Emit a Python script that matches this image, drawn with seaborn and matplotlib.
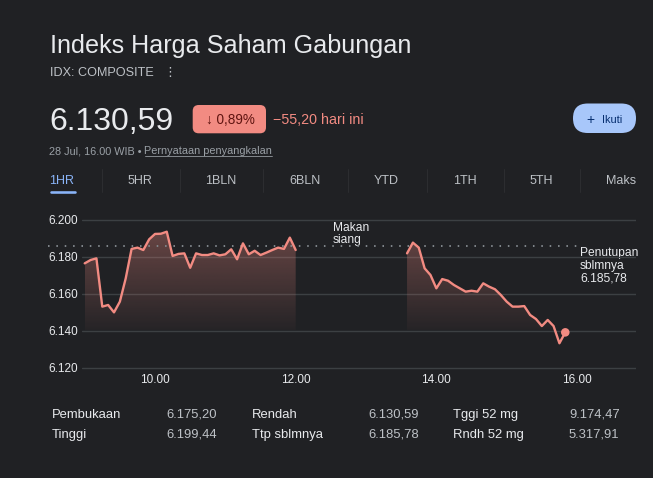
import numpy as np
import pandas as pd
import matplotlib
matplotlib.use("Agg")
import matplotlib.pyplot as plt
import seaborn as sns
from matplotlib.patches import FancyBboxPatch
from matplotlib.colors import to_rgb

# ---------------- data ----------------
title = "Indeks Harga Saham Gabungan"
ticker = "IDX: COMPOSITE"
last_price = 6130.59
change_pct = "0,89%"
change_abs = "\u221255,20 hari ini"
date_line = "28 Jul, 16.00 WIB \u2022 "
disclaimer = "Pernyataan penyangkalan"
tabs = ["1HR", "5HR", "1BLN", "6BLN", "YTD", "1TH", "5TH", "Maks"]

interval_min = 5
morning_start = "09:00"
afternoon_start = "13:35"
morning_values = [6176.3, 6178.1, 6179.0, 6152.9, 6153.8, 6149.8, 6155.6, 6168.2,
                  6184.1, 6184.8, 6183.5, 6189.3, 6192.2, 6192.3, 6193.4, 6180.3,
                  6181.4, 6181.7, 6173.9, 6181.7, 6180.8, 6180.8, 6181.7, 6180.6,
                  6181.2, 6183.9, 6178.5, 6187.1, 6181.2, 6183.1, 6180.8, 6182.1,
                  6183.5, 6184.8, 6184.1, 6190.2, 6183.5]
afternoon_values = [6181.7, 6187.5, 6184.8, 6173.6, 6170.0, 6162.8, 6167.8, 6166.9,
                    6164.6, 6162.8, 6161.0, 6161.5, 6161.0, 6165.5, 6163.7, 6162.3,
                    6159.2, 6155.6, 6152.9, 6152.9, 6153.2, 6148.4, 6146.2, 6142.4,
                    6145.7, 6142.4, 6133.1, 6139.0]
prev_close = 6185.78
y_ticks = [6120, 6140, 6160, 6180, 6200]
x_ticks = [10, 12, 14, 16]
x_tick_labels = ["10.00", "12.00", "14.00", "16.00"]

stat_labels = ["Pembukaan", "Tinggi", "Rendah", "Ttp sblmnya", "Tggi 52 mg", "Rndh 52 mg"]
stat_values = [6175.20, 6199.44, 6130.59, 6185.78, 9174.47, 5317.91]


def fmt_id(v, dec=2):
    s = f"{v:,.{dec}f}"
    return s.replace(",", "X").replace(".", ",").replace("X", ".")


def to_hours(start, n):
    t = pd.date_range("2021-07-28 " + start, periods=n, freq=f"{interval_min}min")
    return (t.hour + t.minute / 60.0).to_numpy()


df = pd.concat([
    pd.DataFrame({"hour": to_hours(morning_start, len(morning_values)),
                  "value": morning_values, "session": "pagi"}),
    pd.DataFrame({"hour": to_hours(afternoon_start, len(afternoon_values)),
                  "value": afternoon_values, "session": "siang"}),
], ignore_index=True)

# ---------------- style ----------------
sns.set_theme(style="dark")
plt.rcParams['font.family'] = ['Liberation Sans', 'DejaVu Sans']
BG = "#202124"
LINE = "#f28b82"
WHITE = "#e8eaed"
GRAY = "#9aa0a6"
LGRAY = "#bdc1c6"
GRID = "#3c4043"
PX = 0.72  # points per pixel at dpi 100

W, H = 653, 478
fig = plt.figure(figsize=(W / 100, H / 100), dpi=100, facecolor=BG)

ov = fig.add_axes([0, 0, 1, 1])
ov.set_xlim(0, W)
ov.set_ylim(H, 0)
ov.axis("off")
ov.patch.set_alpha(0)
ov.set_zorder(0)


def T(x, y, s, px, color, ha="left", **kw):
    return ov.text(x, y, s, fontsize=px * PX, color=color, ha=ha, va="baseline", **kw)


# header
T(50, 53, title, 25.1, WHITE)
T(50, 76, ticker, 12.6, LGRAY)
T(163, 76, "\u22ee", 13, LGRAY, family=['DejaVu Sans'])
T(49, 130, fmt_id(last_price), 32, WHITE)
ov.add_patch(FancyBboxPatch((192.7, 105), 73.3, 28.3,
                            boxstyle="round,pad=0,rounding_size=6",
                            facecolor=LINE, edgecolor="none"))
T(230, 124, "\u2193 " + change_pct, 13.5, "#5f1410", ha="center")
T(273, 124, change_abs, 14.2, LINE)

t1 = T(49, 154, date_line, 10.9, GRAY)
fig.canvas.draw()
r = fig.canvas.get_renderer()
bb = t1.get_window_extent(r)
t2 = T(bb.x1, 154, disclaimer, 10.9, GRAY)
fig.canvas.draw()
bb2 = t2.get_window_extent(r)
ov.plot([bb2.x0, bb2.x1], [156.3, 156.3], color=GRAY, lw=0.8 * PX)

# follow button
ov.add_patch(FancyBboxPatch((573, 103.5), 63, 29.5,
                            boxstyle="round,pad=0,rounding_size=14.7",
                            facecolor="#a8c7fa", edgecolor="none"))
T(590.5, 123.5, "+", 14, "#062e6f", ha="center")
T(602, 123, "Ikuti", 11, "#062e6f")

# tabs
tab_centers = [62, 140, 221, 305, 386, 465, 541, 621]
for i, (lab, cx) in enumerate(zip(tabs, tab_centers)):
    T(cx, 184, lab, 12.5, "#8ab4f8" if i == 0 else LGRAY, ha="center")
for sx in [102, 180, 263, 348, 427, 504, 580]:
    ov.plot([sx, sx], [169, 192], color="#303134", lw=0.8 * PX)
ov.plot([50.5, 74.5], [192, 192], color="#8ab4f8", lw=2.6 * PX, solid_capstyle="round")

# annotations
T(333, 230.7, "Makan", 12, WHITE)
T(333, 243.3, "siang", 12, WHITE)
T(580, 256, "Penutupan", 12, WHITE)
T(580, 268.8, "sblmnya", 12, WHITE)
T(580, 281.6, fmt_id(prev_close), 12, WHITE)

# stats
cols_x = [(52, 166), (252, 368), (453, 569)]
rows_y = [417.7, 437.7]
for k, (lab, val) in enumerate(zip(stat_labels, stat_values)):
    c, rr = divmod(k, 2)
    T(cols_x[c][0], rows_y[rr], lab, 13, WHITE)
    T(cols_x[c][1], rows_y[rr], fmt_id(val), 13, LGRAY)

# ---------------- chart ----------------
x0px, ppx = 84.7, 70.33      # pixel of 9.00, pixels per hour
y200, ppy = 219.5, 1.85      # pixel of 6200, pixels per point
ax_l, ax_r = 82, 636
ylo, yhi = 6117, 6205
top_px = y200 - (yhi - 6200) * ppy
bot_px = y200 + (6200 - ylo) * ppy
ax = fig.add_axes([ax_l / W, 1 - bot_px / H, (ax_r - ax_l) / W, (bot_px - top_px) / H])
ax.set_zorder(1)
ax.set_facecolor("none")

FILL_BOTTOM = 6140
rgb = np.array(to_rgb(LINE))
for sess, g in df.groupby("session"):
    hrs = g["hour"].to_numpy()
    vals = g["value"].to_numpy()
    poly = ax.fill_between(hrs, vals, FILL_BOTTOM, facecolor="none", edgecolor="none")
    grad = np.zeros((256, 1, 4))
    grad[..., :3] = rgb
    grad[:, 0, 3] = np.linspace(0.03, 0.36, 256)
    im = ax.imshow(grad, extent=(hrs[0], hrs[-1], FILL_BOTTOM, 6196), origin="lower",
                   aspect="auto", zorder=1, interpolation="bilinear")
    im.set_clip_path(poly.get_paths()[0], transform=ax.transData)
    sns.lineplot(x=hrs, y=vals, ax=ax, color=LINE, lw=1.7, zorder=3)

last = df.iloc[-1]
ax.scatter([last["hour"]], [last["value"]], s=38, color=LINE, edgecolor="none", zorder=4)

span = ax_r - ax_l
ax.axhline(prev_close, xmin=(48 - ax_l) / span, xmax=(577 - ax_l) / span,
           color="#80868b", lw=1.4, ls=(0, (0.8, 3.5)), clip_on=False, zorder=2)

ax.set_xlim(9 + (ax_l - x0px) / ppx, 9 + (ax_r - x0px) / ppx)
ax.set_ylim(ylo, yhi)
ax.set_yticks(y_ticks)
ax.set_yticklabels([fmt_id(v, 0) for v in y_ticks])
ax.set_xticks(x_ticks)
ax.set_xticklabels(x_tick_labels)
ax.tick_params(axis="y", length=0, pad=3, labelsize=11.8 * PX, labelcolor=WHITE)
ax.tick_params(axis="x", length=0, pad=1, labelsize=11.8 * PX, labelcolor=WHITE)
ax.grid(axis="y", color=GRID, lw=1)
ax.grid(axis="x", visible=False)
for s in ax.spines.values():
    s.set_visible(False)
ax.set_xlabel("")
ax.set_ylabel("")

fig.savefig("out.png", dpi=100, facecolor=BG)
